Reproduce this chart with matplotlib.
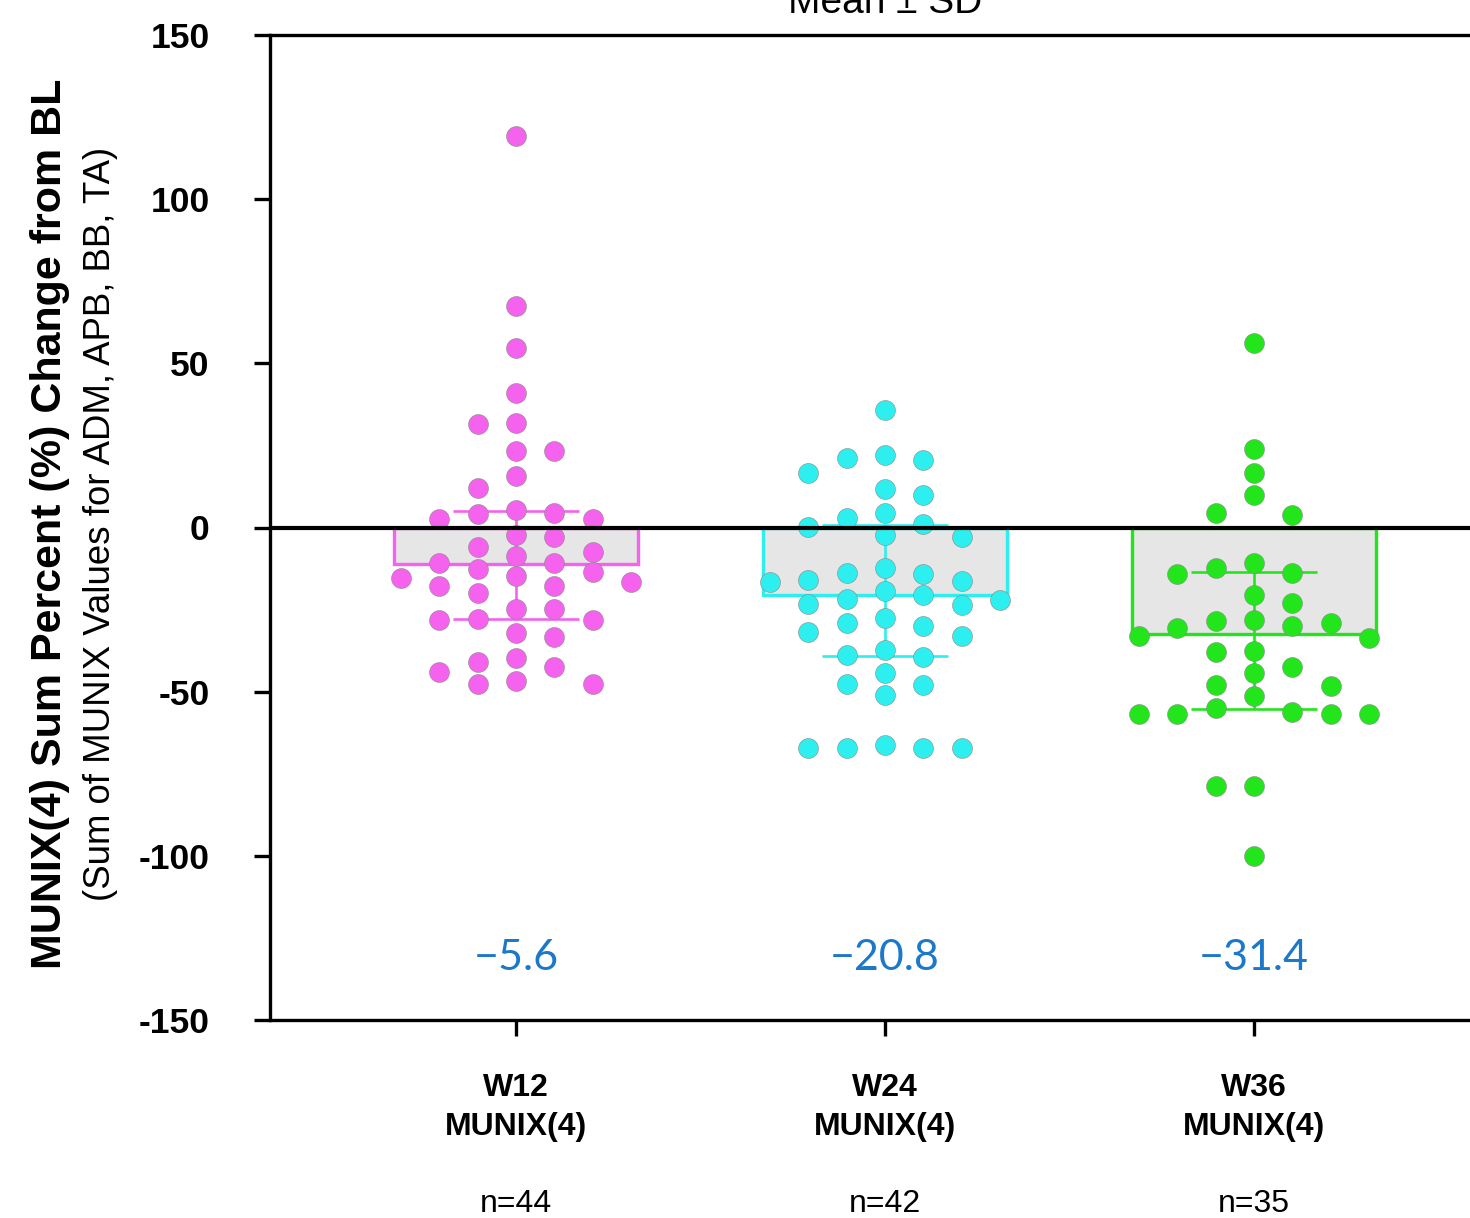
import matplotlib
matplotlib.use("Agg")
import matplotlib.pyplot as plt
import numpy as np
from matplotlib.transforms import blended_transform_factory

plt.rcParams["font.family"] = ["Liberation Sans", "DejaVu Sans"]

# values (percent change from BL, per patient)
w12 = [119.3, 67.5, 54.8, 40.9, 31.9, 31.4, 23.3, 23.3, 15.7, 11.9, 5.3, 4.3,
       4.1, 2.6, 2.6, -2.3, -2.8, -5.8, -7.4, -8.6, -10.9, -10.9, -12.7, -13.7,
       -14.8, -15.5, -16.5, -17.8, -17.8, -20.0, -24.8, -24.8, -27.9, -28.2,
       -28.2, -32.2, -33.5, -39.8, -40.9, -42.4, -44.1, -46.8, -47.7, -47.8]
w24 = [35.8, 22.1, 21.1, 20.6, 16.5, 11.6, 9.9, 4.3, 3.0, 1.0, 0.3, -2.3, -2.8,
       -12.4, -14.0, -14.2, -16.0, -16.2, -16.7, -19.2, -20.6, -21.9, -22.1,
       -23.3, -23.6, -27.5, -29.2, -29.9, -31.7, -33.0, -37.3, -38.8, -39.4,
       -44.4, -47.7, -48.0, -51.0, -66.3, -67.3, -67.3, -67.3, -67.3]
w36 = [56.3, 23.8, 16.7, 9.9, 4.5, 3.8, -10.7, -12.2, -13.8, -14.3, -20.6,
       -23.1, -28.2, -28.5, -29.0, -30.0, -30.7, -33.0, -33.8, -37.6, -37.8,
       -42.4, -44.2, -48.0, -48.3, -51.3, -55.1, -56.1, -56.9, -56.9, -56.9,
       -56.9, -78.7, -78.7, -100.1]

groups = [w12, w24, w36]
categories = ["W12\nMUNIX(4)", "W24\nMUNIX(4)", "W36\nMUNIX(4)"]
n_labels = ["n=44", "n=42", "n=35"]
bar_height = [-11.1, -20.7, -32.5]
err_low = [-27.9, -39.0, -55.3]
err_high = [5.0, 0.8, -13.5]
mean_labels = ["\u22125.6", "\u221220.8", "\u221231.4"]
colors = ["#f563ee", "#2eefef", "#22e61b"]


def swarm(vals, step, dy):
    # greedy beeswarm on a half-step grid, highest value first
    vals = np.asarray(vals, float)
    xs = np.zeros(len(vals))
    placed = []
    flip = 1
    for i in np.argsort(-vals):
        y = vals[i]
        cands = [0.0]
        for j in range(1, 30):
            cands += [-flip * j * step / 2, flip * j * step / 2]
        for c in cands:
            if all(abs(c - px) > step - 1e-9 or abs(y - py) >= dy
                   for px, py in placed):
                break
        if c != 0:
            flip = -flip
        placed.append((c, y))
        xs[i] = c
    return xs


fig = plt.figure(figsize=(14.7, 12.18), dpi=100)
ax = fig.add_axes([270 / 1470, 198 / 1218, 1230 / 1470, 985 / 1218])

x = np.arange(len(groups))
ax.bar(x, bar_height, width=0.66, color="#e6e6e6", edgecolor=colors,
       linewidth=2.4, zorder=1)
for i in range(len(groups)):
    ax.vlines(x[i], err_low[i], err_high[i], color=colors[i], lw=1.9, zorder=2)
    ax.hlines([err_low[i], err_high[i]], x[i] - 0.17, x[i] + 0.17,
              color=colors[i], lw=1.9, zorder=2)
    offs = swarm(groups[i], 0.104, 6.2)
    ax.scatter(x[i] + offs, groups[i], s=205, color=colors[i],
               edgecolor="#888888", linewidth=0.4, zorder=3)
    ax.text(x[i], -131, mean_labels[i], ha="center", va="center",
            fontsize=31, family=["Lato", "DejaVu Sans"], fontweight="normal",
            color="#1c78c8", zorder=5)

ax.axhline(0, color="black", lw=3, zorder=4)

ax.set_xlim(-0.667, 2.667)
ax.set_ylim(-150, 150)
ax.set_yticks([-150, -100, -50, 0, 50, 100, 150])
ax.set_yticklabels(["-150", "-100", "-50", "0", "50", "100", "150"],
                   fontweight="bold", fontsize=25.5)
ax.set_xticks(x)
ax.set_xticklabels(categories, fontweight="bold", fontsize=23,
                   linespacing=1.35)
ax.tick_params(axis="y", length=11.5, width=2.4, pad=32)
ax.tick_params(axis="x", length=11.5, width=2.4, pad=27)
for side in ["left", "bottom", "top", "right"]:
    ax.spines[side].set_linewidth(2.4)

trans = blended_transform_factory(ax.transData, fig.transFigure)
for i in range(len(groups)):
    ax.text(x[i], 1 - 1204 / 1218, n_labels[i], transform=trans,
            ha="center", va="center", fontsize=23)

fig.text(50 / 1470, 1 - 524 / 1218, "MUNIX(4) Sum Percent (%) Change from BL",
         rotation=90, ha="center", va="center", fontsize=31, fontweight="bold")
fig.text(100 / 1470, 1 - 524 / 1218,
         "(Sum of MUNIX Values for ADM, APB, BB, TA)",
         rotation=90, ha="center", va="center", fontsize=26.4)
fig.text(885 / 1470, 1 - 13 / 1218, "Mean \u00b1 SD", ha="center",
         va="baseline", fontsize=28)

fig.savefig("out.png", dpi=100, facecolor="white")
